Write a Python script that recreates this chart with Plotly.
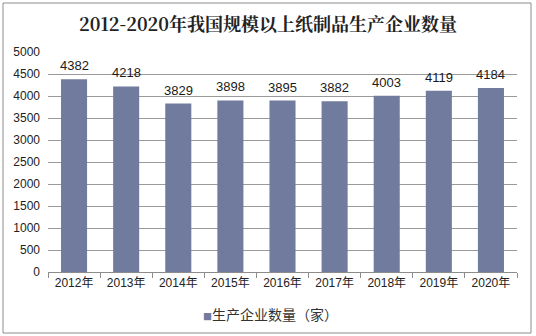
import plotly.graph_objects as go

years = ["2012年", "2013年", "2014年", "2015年", "2016年", "2017年", "2018年", "2019年", "2020年"]
counts = [4382, 4218, 3829, 3898, 3895, 3882, 4003, 4119, 4184]
series_name = "生产企业数量（家）"
title_text = "2012-2020年我国规模以上纸制品生产企业数量"

W, H = 536, 336
L, R, T, B = 48, 19, 52, 64
pw, ph = W - L - R, H - T - B
bar_color = "#707B9E"

def px_x(p):
    return (p - L) / pw

def px_y(p):
    return (H - B - p) / ph

font_main = "Liberation Sans, Arial, Noto Sans CJK SC, sans-serif"

fig = go.Figure()
fig.add_trace(go.Bar(
    x=years, y=counts, name=series_name,
    marker=dict(color=bar_color, line=dict(width=0)),
    showlegend=False,
))

# value labels above each bar
for yr, v in zip(years, counts):
    fig.add_annotation(x=yr, y=v, xref="x", yref="y", text=str(v), showarrow=False,
                       yanchor="bottom", yshift=4,
                       font=dict(size=13, color="#1a1a1a", family=font_main))

# legend entry: small square swatch plus series name
fig.add_annotation(xref="paper", yref="paper", x=px_x(201), y=px_y(314),
                   xanchor="left", yanchor="middle", showarrow=False,
                   text="<span style='color:%s;font-size:9px'>■</span>%s" % (bar_color, series_name),
                   font=dict(size=14, color="#333333", family="Noto Sans CJK SC, sans-serif"))

fig.update_layout(
    width=W, height=H,
    margin=dict(l=L, r=R, t=T, b=B),
    paper_bgcolor="white", plot_bgcolor="white",
    bargap=0.5,
    title=dict(text="<b>" + title_text + "</b>", x=0.5, xanchor="center",
               y=1 - 25 / H, yanchor="middle",
               font=dict(size=18, color="#222222", family="Noto Serif CJK SC, Noto Sans CJK SC, serif")),
    showlegend=False,
    xaxis=dict(type="category", showgrid=False, showline=True, linecolor="#8C8C8C", linewidth=1,
               ticks="outside", tickson="boundaries", ticklen=5, tickcolor="#8C8C8C",
               tickfont=dict(size=12, color="#222222", family=font_main)),
    yaxis=dict(range=[0, 5000], dtick=500, showgrid=True, gridcolor="#9A9A9A", gridwidth=1,
               showline=False, zeroline=False, ticks="", ticklabelstandoff=7,
               tickfont=dict(size=12, color="#222222", family=font_main)),
    shapes=[dict(type="rect", xref="paper", yref="paper",
                 x0=px_x(3), x1=px_x(531), y0=px_y(333), y1=px_y(3),
                 line=dict(color="#8C8C8C", width=1), fillcolor="rgba(0,0,0,0)", layer="below")],
)

fig.write_html("out.html")
